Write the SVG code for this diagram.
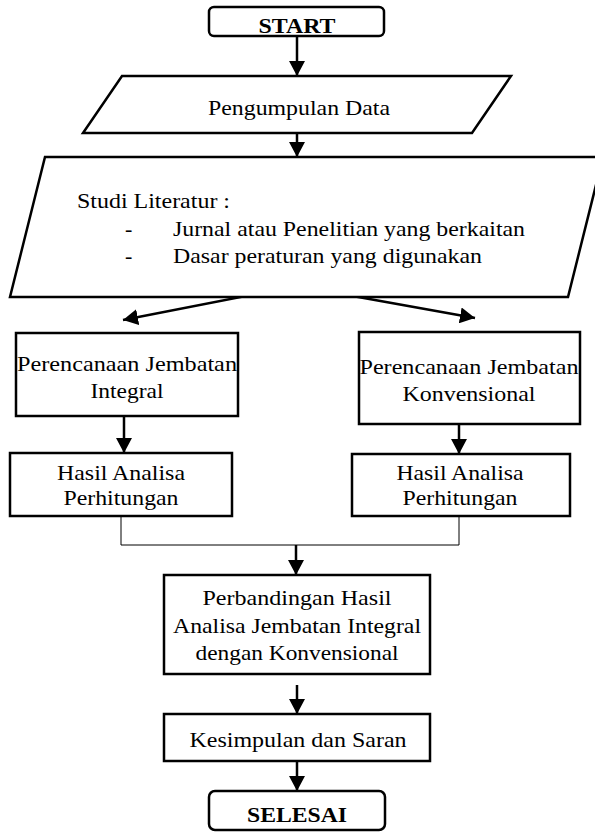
<svg xmlns="http://www.w3.org/2000/svg" width="595" height="832" viewBox="0 0 595 832">
  <defs>
    <marker id="arrow" markerUnits="userSpaceOnUse" markerWidth="16" markerHeight="16" refX="15" refY="8" orient="auto">
      <path d="M0,0 L15,8 L0,16 Z" fill="#000"/>
    </marker>
    <style>
      .shape { fill: #fff; stroke: #000; stroke-width: 2.5; }
      .txt { font-family: "Liberation Serif", "Times New Roman", serif; font-size: 22px; fill: #000; }
      .mid { text-anchor: middle; }
      .bold { font-weight: bold; }
      .flow { fill: none; stroke: #000; stroke-width: 2.5; marker-end: url(#arrow); }
      .join { fill: none; stroke: #000; stroke-width: 1; }
    </style>
  </defs>
  <rect width="595" height="832" fill="#fff"/>

  <g id="connectors">
    <line class="flow" x1="297" y1="36" x2="297" y2="76"/>
    <line class="flow" x1="297" y1="133" x2="297" y2="157"/>
    <line class="flow" x1="297" y1="286" x2="123" y2="320"/>
    <line class="flow" x1="297" y1="286" x2="475" y2="318"/>
    <line class="flow" x1="124" y1="416" x2="124" y2="453"/>
    <line class="flow" x1="459" y1="424" x2="459" y2="454"/>
    <polyline class="join" points="121,516 121,545 459,545 459,516"/>
    <line class="flow" x1="296" y1="545" x2="296" y2="575"/>
    <line class="flow" x1="297" y1="685" x2="297" y2="714"/>
    <line class="flow" x1="297" y1="762" x2="297" y2="791"/>
  </g>

  <g id="start">
    <rect class="shape" x="209" y="7" width="175" height="29" rx="5"/>
    <text class="txt mid bold" x="297" y="33" textLength="77" lengthAdjust="spacingAndGlyphs">START</text>
  </g>

  <g id="pengumpulan-data">
    <polygon class="shape" points="122,76 511,76 472,133 83,133"/>
    <text class="txt mid" x="299" y="115" textLength="182" lengthAdjust="spacingAndGlyphs">Pengumpulan Data</text>
  </g>

  <g id="studi-literatur">
    <polygon class="shape" points="45,157 603,157 568,297 10,297"/>
    <text class="txt" x="77" y="208" textLength="153" lengthAdjust="spacingAndGlyphs">Studi Literatur :</text>
    <text class="txt" x="125" y="236">-</text>
    <text class="txt" x="173" y="236" textLength="352" lengthAdjust="spacingAndGlyphs">Jurnal atau Penelitian yang berkaitan</text>
    <text class="txt" x="125" y="263">-</text>
    <text class="txt" x="173" y="263" textLength="309" lengthAdjust="spacingAndGlyphs">Dasar peraturan yang digunakan</text>
  </g>

  <g id="perencanaan-integral">
    <rect class="shape" x="16" y="333" width="222" height="83"/>
    <text class="txt mid" x="127" y="371" textLength="220" lengthAdjust="spacingAndGlyphs">Perencanaan Jembatan</text>
    <text class="txt mid" x="127" y="398" textLength="73" lengthAdjust="spacingAndGlyphs">Integral</text>
  </g>

  <g id="perencanaan-konvensional">
    <rect class="shape" x="359" y="332" width="221" height="92"/>
    <text class="txt mid" x="469" y="374" textLength="219" lengthAdjust="spacingAndGlyphs">Perencanaan Jembatan</text>
    <text class="txt mid" x="469" y="401" textLength="133" lengthAdjust="spacingAndGlyphs">Konvensional</text>
  </g>

  <g id="hasil-integral">
    <rect class="shape" x="10" y="453" width="222" height="63"/>
    <text class="txt mid" x="121" y="480" textLength="128" lengthAdjust="spacingAndGlyphs">Hasil Analisa</text>
    <text class="txt mid" x="121" y="505" textLength="115" lengthAdjust="spacingAndGlyphs">Perhitungan</text>
  </g>

  <g id="hasil-konvensional">
    <rect class="shape" x="352" y="454" width="218" height="62"/>
    <text class="txt mid" x="460" y="480" textLength="127" lengthAdjust="spacingAndGlyphs">Hasil Analisa</text>
    <text class="txt mid" x="460" y="505" textLength="115" lengthAdjust="spacingAndGlyphs">Perhitungan</text>
  </g>

  <g id="perbandingan">
    <rect class="shape" x="164" y="575" width="266" height="99"/>
    <text class="txt mid" x="297" y="605" textLength="189" lengthAdjust="spacingAndGlyphs">Perbandingan Hasil</text>
    <text class="txt mid" x="297" y="633" textLength="248" lengthAdjust="spacingAndGlyphs">Analisa Jembatan Integral</text>
    <text class="txt mid" x="297" y="660" textLength="203" lengthAdjust="spacingAndGlyphs">dengan Konvensional</text>
  </g>

  <g id="kesimpulan">
    <rect class="shape" x="164" y="714" width="266" height="47"/>
    <text class="txt mid" x="298" y="747" textLength="217" lengthAdjust="spacingAndGlyphs">Kesimpulan dan Saran</text>
  </g>

  <g id="selesai">
    <rect class="shape" x="209" y="791" width="176" height="39" rx="6"/>
    <text class="txt mid bold" x="297" y="822" textLength="100" lengthAdjust="spacingAndGlyphs">SELESAI</text>
  </g>
</svg>
